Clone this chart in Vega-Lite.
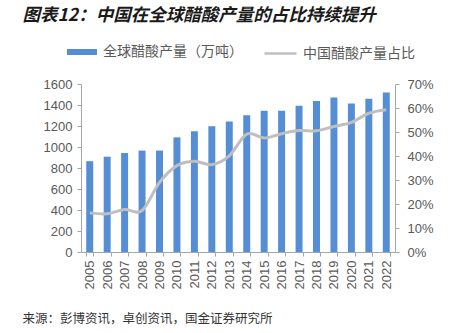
{
  "$schema": "https://vega.github.io/schema/vega-lite/v6.json",
  "width": 314,
  "height": 168,
  "autosize": {"type": "none"},
  "padding": {"left": 81, "top": 84, "right": 67, "bottom": 81},
  "background": "white",
  "data": {
    "values": [
      {"year": "2005", "prod": 865, "pct": 0.163},
      {"year": "2006", "prod": 908, "pct": 0.159},
      {"year": "2007", "prod": 943, "pct": 0.177},
      {"year": "2008", "prod": 966, "pct": 0.173},
      {"year": "2009", "prod": 966, "pct": 0.29},
      {"year": "2010", "prod": 1092, "pct": 0.36},
      {"year": "2011", "prod": 1150, "pct": 0.378},
      {"year": "2012", "prod": 1198, "pct": 0.364},
      {"year": "2013", "prod": 1242, "pct": 0.401},
      {"year": "2014", "prod": 1302, "pct": 0.491},
      {"year": "2015", "prod": 1346, "pct": 0.475},
      {"year": "2016", "prod": 1346, "pct": 0.493},
      {"year": "2017", "prod": 1393, "pct": 0.506},
      {"year": "2018", "prod": 1438, "pct": 0.505},
      {"year": "2019", "prod": 1472, "pct": 0.523},
      {"year": "2020", "prod": 1415, "pct": 0.54},
      {"year": "2021", "prod": 1460, "pct": 0.578},
      {"year": "2022", "prod": 1518, "pct": 0.593}
    ]
  },
  "config": {
    "view": {"stroke": null},
    "axis": {
      "grid": false,
      "labelFont": "Liberation Sans",
      "labelColor": "#595959",
      "labelFontSize": 13,
      "domainColor": "#A6A6A6",
      "tickColor": "#A6A6A6",
      "tickSize": 4
    },
    "legend": {
      "labelFont": "Noto Sans CJK SC",
      "labelFontSize": 14,
      "labelColor": "#595959",
      "padding": 0
    }
  },
  "resolve": {"scale": {"y": "independent"}, "axis": {"x": "independent"}},
  "layer": [
    {
      "mark": {"type": "bar"},
      "encoding": {
        "x": {
          "field": "year",
          "type": "ordinal",
          "scale": {"paddingInner": 0.6, "paddingOuter": 0.3},
          "axis": {
            "title": null,
            "labelAngle": -90,
            "labelAlign": "right",
            "labelBaseline": "middle",
            "tickBand": "extent",
            "labelPadding": 4
          }
        },
        "y": {
          "field": "prod",
          "type": "quantitative",
          "scale": {"domain": [0, 1600]},
          "axis": {
            "title": null,
            "values": [0, 200, 400, 600, 800, 1000, 1200, 1400, 1600],
            "format": "d",
            "labelPadding": 5
          }
        },
        "fill": {
          "datum": "全球醋酸产量（万吨）",
          "scale": {"range": ["#558ED5"]},
          "legend": {
            "title": null,
            "orient": "none",
            "legendX": -14,
            "legendY": -47,
            "symbolType": "M-1,-0.2H1V0.2H-1Z",
            "symbolSize": 900,
            "symbolStrokeWidth": 0,
            "labelOffset": 6
          }
        }
      }
    },
    {
      "mark": {"type": "line", "interpolate": "cardinal", "strokeWidth": 3},
      "encoding": {
        "x": {
          "field": "year",
          "type": "ordinal",
          "axis": {
            "orient": "top",
            "offset": 54.5,
            "domain": false,
            "ticks": false,
            "labels": false,
            "title": "图表12：中国在全球醋酸产量的占比持续提升",
            "titleX": -59,
            "titleY": -14,
            "titleAlign": "left",
            "titleAnchor": "start",
            "titleBaseline": "middle",
            "titleFont": "Noto Sans CJK SC",
            "titleFontSize": 17.5,
            "titleFontStyle": "italic",
            "titleFontWeight": "bold",
            "titleColor": "#1a1a1a"
          }
        },
        "y": {
          "field": "pct",
          "type": "quantitative",
          "scale": {"domain": [0, 0.7]},
          "axis": {
            "orient": "right",
            "title": null,
            "values": [0, 0.1, 0.2, 0.3, 0.4, 0.5, 0.6, 0.7],
            "format": ".0%",
            "labelPadding": 8
          }
        },
        "stroke": {
          "datum": "中国醋酸产量占比",
          "scale": {"range": ["#BFBFBF"]},
          "legend": {
            "title": null,
            "orient": "none",
            "legendX": 182,
            "legendY": -48,
            "symbolType": "stroke",
            "symbolSize": 1024,
            "symbolStrokeWidth": 2.5,
            "labelOffset": 5
          }
        }
      }
    },
    {
      "mark": {"type": "point", "opacity": 0},
      "encoding": {
        "x": {
          "field": "year",
          "type": "ordinal",
          "axis": {
            "orient": "bottom",
            "offset": 53.5,
            "domain": false,
            "ticks": false,
            "labels": false,
            "title": "来源：彭博资讯，卓创资讯，国金证券研究所",
            "titleX": -59,
            "titleY": 12.5,
            "titleAlign": "left",
            "titleAnchor": "start",
            "titleBaseline": "middle",
            "titleFont": "Noto Sans CJK SC",
            "titleFontSize": 12.5,
            "titleFontWeight": "normal",
            "titleColor": "#333333"
          }
        },
        "y": {"field": "pct", "type": "quantitative", "axis": null}
      }
    }
  ]
}
